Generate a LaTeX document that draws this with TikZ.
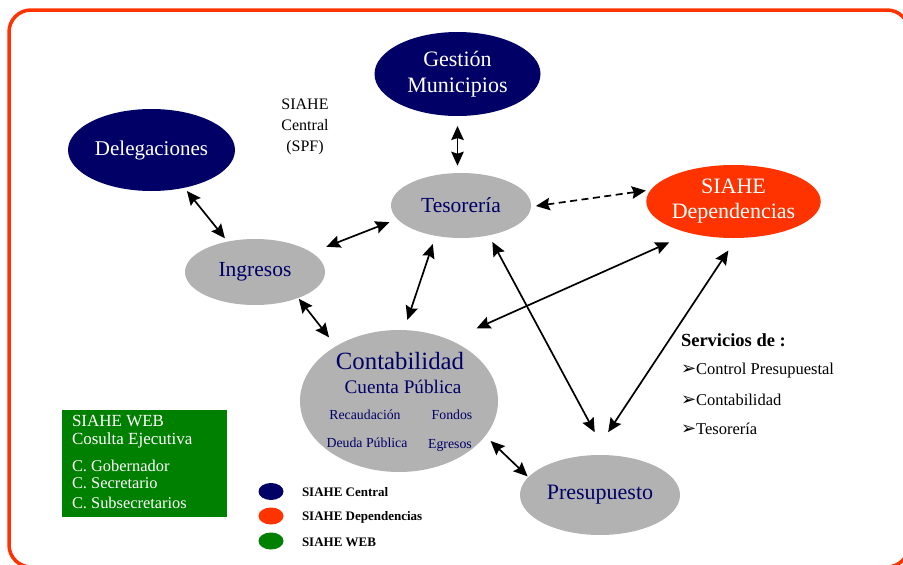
\documentclass[tikz,border=0pt]{standalone}
\usepackage{fontspec}
\setmainfont{Liberation Serif}
\newfontfamily\dejavu{DejaVu Sans}
\usetikzlibrary{shapes.geometric,arrows.meta}
\definecolor{navy}{RGB}{0,0,102}
\definecolor{grayfill}{RGB}{178,178,178}
\definecolor{orred}{RGB}{255,51,0}
\definecolor{webgreen}{RGB}{0,128,0}
\newcommand{\fs}[1]{\fontsize{#1}{#1}\selectfont}
\newcommand{\bul}{{\dejavu\fs{18}➢}}
\begin{document}
\begin{tikzpicture}[x=1pt,y=-1pt,
  ell/.style={ellipse, inner sep=0pt, outer sep=0pt, align=center},
  central/.style={ell, fill=navy, text=white},
  gray/.style={ell, fill=grayfill, text=navy},
  depend/.style={ell, fill=orred, text=white},
  lbl/.style={inner sep=0pt, outer sep=0pt},
  arr/.style={{Stealth[length=14pt,width=12.5pt,inset=2pt]}-{Stealth[length=14pt,width=12.5pt,inset=2pt]}, line width=1.7pt, black},
  legdot/.style={ellipse, inner sep=0pt, minimum width=25pt, minimum height=17pt},
]
\fill[white] (0,0) rectangle (903,565);
\useasboundingbox (0,0) rectangle (903,565);
\begin{scope}
\clip (0,0) rectangle (903,565);
\draw[orred, line width=3.5pt, rounded corners=22pt] (9,10) rectangle (909,567);
\end{scope}

% main nodes
\node[central, minimum width=166pt, minimum height=84pt, font=\fontsize{22}{26}\selectfont] (gm) at (457.5,74) {Gestión\\Municipios};
\node[central, minimum width=167pt, minimum height=82pt, font=\fs{21}] (del) at (151.5,150) {Delegaciones};
\node[gray, minimum width=140pt, minimum height=65pt, font=\fs{21.5}] (tes) at (461,205.5) {Tesorería};
\node[depend, minimum width=157pt, minimum height=73pt, font=\fontsize{22}{25}\selectfont] (dep) at (733.5,201.5) {SIAHE\\Dependencias};
\node[gray, minimum width=140pt, minimum height=66pt, font=\fs{21.5}] (ing) at (255,272) {Ingresos};
\node[gray, minimum width=198pt, minimum height=142pt] (con) at (399,401) {};
\node[gray, minimum width=160pt, minimum height=80pt, font=\fs{22}] (pre) at (600,495) {Presupuesto};

% texts in Contabilidad
\node[lbl, text=navy, font=\fs{24.8}] (ct1) at (400,361) {Contabilidad};
\node[lbl, text=navy, font=\fs{19.2}] (ct2) at (403,387) {Cuenta Pública};
\node[lbl, text=navy, font=\fs{13.8}] (ct3) at (365,415) {Recaudación};
\node[lbl, text=navy, font=\fs{13.8}] (ct4) at (452,415) {Fondos};
\node[lbl, text=navy, font=\fs{13.8}] (ct5) at (367,443) {Deuda Pública};
\node[lbl, text=navy, font=\fs{13.8}] (ct6) at (450,445) {Egresos};

% SIAHE Central label
\node[lbl, align=center, font=\fontsize{16}{21}\selectfont] (spf) at (305,127) {SIAHE\\Central\\(SPF)};

% arrows
\draw[arr, shorten <=10pt, shorten >=7.3pt] (gm.south) -- (gm.south |- tes.north);
\draw[arr, shorten <=4.2pt, shorten >=4.3pt] (del.-49.1) -- (ing.132);
\draw[arr, shorten <=15.9pt, shorten >=8.6pt] (ing.19.3) -- (tes.192.4);
\draw[arr, dash pattern=on 7pt off 4.5pt, shorten <=5pt, shorten >=5pt] (tes.-1.5) -- (dep.172.8);
\draw[arr, shorten <=1pt, shorten >=11.3pt] (ing.-31.7) -- (con.139.9);
\draw[arr, shorten <=8.7pt, shorten >=10.7pt] (tes.230.3) -- (con.86.4);
\draw[arr, shorten <=22.7pt, shorten >=29pt] (dep.216) -- (con.50.4);
\draw[arr, shorten <=7.5pt, shorten >=26pt] (tes.-47) -- (pre.80);
\draw[arr, shorten <=15pt, shorten >=27.5pt] (dep.275) -- (pre.100);
\draw[arr, shorten <=7.4pt, shorten >=1.1pt] (con.-22.6) -- (pre.166.6);

% Servicios
\node[lbl, anchor=west, font=\bfseries\fs{18.5}] (sv) at (681,340) {Servicios de :};
\node[lbl, anchor=west, font=\fs{16.5}] (sv1) at (681,371) {\bul Control Presupuestal};
\node[lbl, anchor=west, font=\fs{16.5}] (sv2) at (681,399.5) {\bul Contabilidad};
\node[lbl, anchor=west, font=\fs{16.5}] (sv3) at (681,428.5) {\bul Tesorería};

% SIAHE WEB box
\node[fill=webgreen, minimum width=165pt, minimum height=107pt, inner sep=0pt] (web) at (144.5,463.5) {};
\node[lbl, anchor=west, text=white, font=\fs{17}] (w1) at (72,420.5) {SIAHE WEB};
\node[lbl, anchor=west, text=white, font=\fs{17}] (w0) at (72,440) {Cosulta Ejecutiva};
\node[lbl, anchor=west, text=white, font=\fs{16.4}] (w2) at (72,466) {C. Gobernador};
\node[lbl, anchor=west, text=white, font=\fs{16.4}] (w3) at (72,483.5) {C. Secretario};
\node[lbl, anchor=west, text=white, font=\fs{16.4}] (w4) at (72,503) {C. Subsecretarios};

% legend
\node[legdot, fill=navy] (l1) at (271,491.5) {};
\node[legdot, fill=orred] (l2) at (271,516) {};
\node[legdot, fill=webgreen] (l3) at (271,541) {};
\node[lbl, anchor=west, font=\bfseries\fs{13}] (t1) at (302,492) {SIAHE Central};
\node[lbl, anchor=west, font=\bfseries\fs{13}] (t2) at (302,517) {SIAHE Dependencias};
\node[lbl, anchor=west, font=\bfseries\fs{13}] (t3) at (302,542) {SIAHE WEB};
\end{tikzpicture}
\end{document}
